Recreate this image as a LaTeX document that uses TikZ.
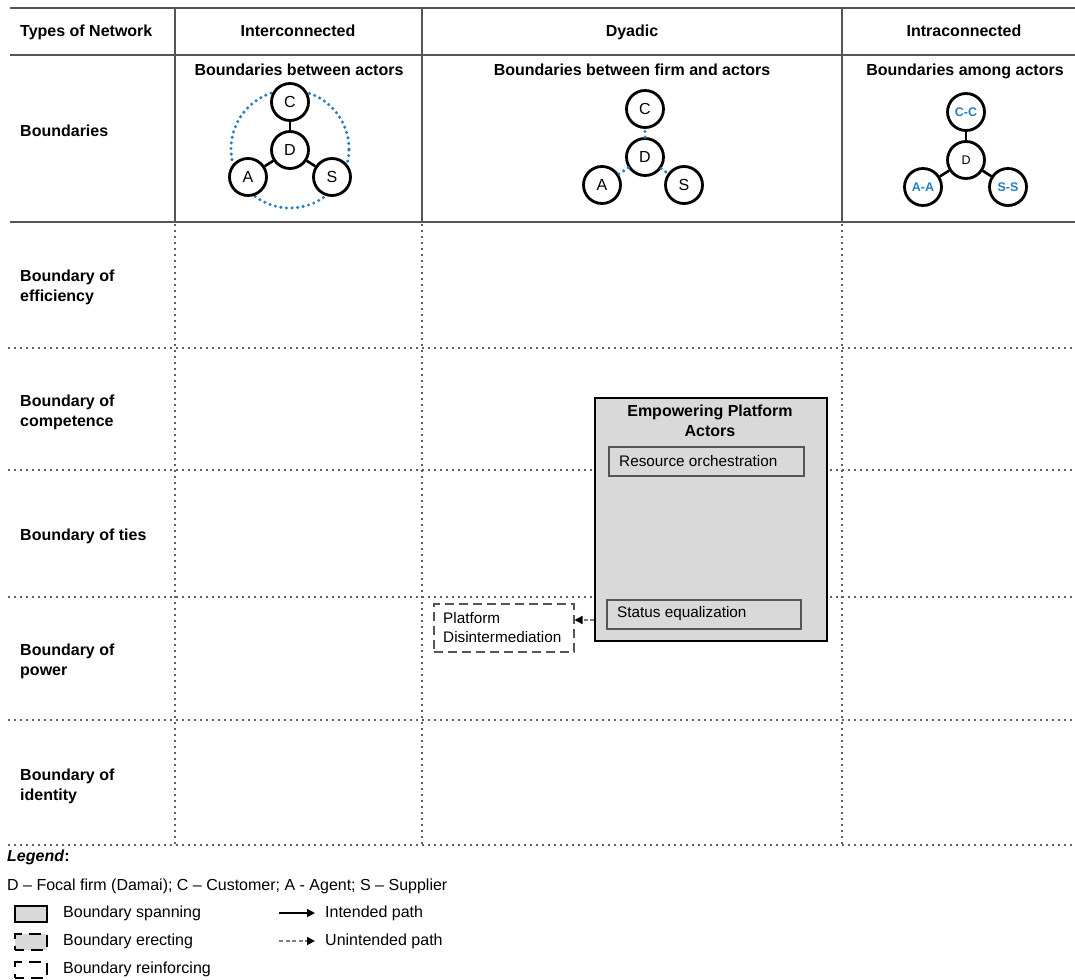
\documentclass[tikz,border=0pt]{standalone}
\usepackage{fontspec}
\setmainfont{Liberation Sans}
\usetikzlibrary{arrows.meta}
\definecolor{rulegray}{RGB}{85,85,85}
\definecolor{dotgray}{RGB}{95,95,95}
\definecolor{boxfill}{RGB}{217,217,217}
\definecolor{netblue}{RGB}{38,126,194}

\begin{document}
\begin{tikzpicture}[x=1pt,y=-1pt,
  font=\fontsize{16}{20}\selectfont,
  solidrule/.style={draw=rulegray, line width=2.2pt},
  dotrule/.style={draw=dotgray, line width=1.6pt, dash pattern=on 1.6pt off 4.4pt},
  rowlabel/.style={anchor=west, align=left, inner sep=0pt,
    font=\fontsize{16}{20}\selectfont\bfseries},
  headtext/.style={anchor=mid, inner sep=0pt, font=\fontsize{16}{19}\selectfont\bfseries},
  actor/.style={circle, draw=black, line width=2.8pt, fill=white,
    minimum size=37pt, inner sep=0pt, font=\fontsize{16}{18}\selectfont},
  smallactor/.style={actor, font=\fontsize{12.5}{14}\selectfont},
  blueactor/.style={actor, text=netblue, font=\fontsize{12.5}{14}\selectfont\bfseries},
  tie/.style={draw=black, line width=2.6pt},
  bluedots/.style={draw=netblue, line width=3.4pt, dash pattern=on 0pt off 5.6pt, line cap=round},
  spanbox/.style={draw=black, line width=2.4pt, fill=boxfill},
  innerbox/.style={draw=rulegray, line width=1.6pt, fill=boxfill, anchor=north west,
    inner sep=0pt},
  reinforcebox/.style={draw=rulegray, line width=1.5pt, dash pattern=on 9pt off 5pt,
    inner sep=0pt, anchor=north west},
  legendbox/.style={draw=black, line width=2.4pt, dash pattern=on 12pt off 7pt,
    dash phase=3pt, inner sep=0pt, anchor=north west},
  intended/.style={draw=black, line width=1.8pt, -{Triangle[length=8pt,width=8pt]}},
  unintended/.style={draw=gray, line width=1.3pt, dash pattern=on 4pt off 2.5pt,
    -{Triangle[length=8pt,width=8pt,black]}},
  plain/.style={anchor=west, inner sep=0pt},
  boxtext/.style={plain, font=\fontsize{15.3}{19}\selectfont}
]
\useasboundingbox (0,0) rectangle (1075,979);

% ---------- table frame ----------
\draw[solidrule] (10,8) -- (1075,8);
\draw[solidrule] (10,55) -- (1075,55);
\draw[solidrule] (10,222) -- (1075,222);
\foreach \cx in {175,422,842} {
  \draw[solidrule] (\cx,8) -- (\cx,222);
  \draw[dotrule] (\cx,224) -- (\cx,845);
}
\foreach \ry in {348,470,597,720,845} {
  \draw[dotrule] (8,\ry) -- (1075,\ry);
}

% ---------- header row ----------
\node[headtext, anchor=mid west] (hType) at (20,34) {Types of Network};
\node[headtext] (hInter) at (298,34) {Interconnected};
\node[headtext] (hDyad) at (632,34) {Dyadic};
\node[headtext] (hIntra) at (964,34) {Intraconnected};

% ---------- row labels ----------
\node[rowlabel] (rBound) at (20,131) {Boundaries};
\node[rowlabel] (rEff) at (20,287) {Boundary of\\efficiency};
\node[rowlabel] (rComp) at (20,412) {Boundary of\\competence};
\node[rowlabel] (rTies) at (20,536) {Boundary of ties};
\node[rowlabel] (rPow) at (20,661) {Boundary of\\power};
\node[rowlabel] (rIdent) at (20,786) {Boundary of\\identity};

% ---------- interconnected network ----------
\node[headtext] (tInter) at (299,73) {Boundaries between actors};
\coordinate (ring) at (290,149);
\draw[bluedots] (ring) circle[radius=59pt];
\node[actor] (iD) at (290,150) {D};
\node[actor] (iC) at (290,102) {C};
\node[actor] (iA) at (248,177) {A};
\node[actor] (iS) at (332,177) {S};
\draw[tie] (iD) -- (iC);
\draw[tie] (iD) -- (iA);
\draw[tie] (iD) -- (iS);

% ---------- dyadic network ----------
\node[headtext] (tDyad) at (632,73) {Boundaries between firm and actors};
\node[actor] (dD) at (645,157) {D};
\node[actor] (dC) at (645,109) {C};
\node[actor] (dA) at (602,185) {A};
\node[actor] (dS) at (684,185) {S};
\draw[bluedots] (dD) -- (dC);
\draw[bluedots] (dD) -- (dA);
\draw[bluedots] (dD) -- (dS);

% ---------- intraconnected network ----------
\node[headtext] (tIntra) at (965,73) {Boundaries among actors};
\node[smallactor] (nD) at (966,160) {D};
\node[blueactor] (nC) at (966,112) {C-C};
\node[blueactor] (nA) at (923,187) {A-A};
\node[blueactor] (nS) at (1008,187) {S-S};
\draw[tie] (nD) -- (nC);
\draw[tie] (nD) -- (nA);
\draw[tie] (nD) -- (nS);

% ---------- boundary spanning block ----------
\node[spanbox, anchor=north west, minimum width=232pt, minimum height=243pt, inner sep=0pt]
  (emp) at (594,397) {};
\node[anchor=north, align=center, inner sep=0pt,
  font=\fontsize{16}{20}\selectfont\bfseries] (empT) at (710,405) {Empowering Platform\\Actors};
\node[innerbox, minimum width=195pt, minimum height=29pt] (res) at (608,446) {};
\node[boxtext] (resT) at (619,461) {Resource orchestration};
\node[innerbox, minimum width=194pt, minimum height=29pt] (stat) at (606,599) {};
\node[boxtext] (statT) at (617,614) {Status equalization};

% ---------- boundary reinforcing block ----------
\node[reinforcebox, minimum width=140pt, minimum height=48pt] (pd) at (433,603) {};
\node[boxtext, align=left, font=\fontsize{15.3}{19}\selectfont] (pdT) at (443,628)
  {Platform\\Disintermediation};
\draw[unintended] (emp.west |- 0,620) -- (pd.east |- 0,620);

% ---------- legend ----------
\node[plain, font=\fontsize{16}{18}\selectfont\bfseries] (lgT) at (7,857) {\textit{Legend}:};
\node[plain] (lgKey) at (7,886)
  {D -- Focal firm (Damai); C -- Customer; A - Agent; S -- Supplier};
\node[spanbox, anchor=north west, minimum width=32pt, minimum height=16pt, inner sep=0pt]
  (lgSpan) at (14,905) {};
\node[plain] (lgSpanT) at (63,913) {Boundary spanning};
\node[legendbox, fill=boxfill, minimum width=32pt, minimum height=16pt] (lgErect) at (14,933) {};
\node[plain] (lgErectT) at (63,941) {Boundary erecting};
\node[legendbox, minimum width=32pt, minimum height=16pt] (lgReinf) at (14,961) {};
\node[plain] (lgReinfT) at (63,969) {Boundary reinforcing};
\coordinate (aS1) at (279,913);
\coordinate (aE1) at (315,913);
\draw[intended] (aS1) -- (aE1);
\node[plain] (lgInt) at (325,913) {Intended path};
\coordinate (aS2) at (279,941);
\coordinate (aE2) at (315,941);
\draw[unintended] (aS2) -- (aE2);
\node[plain] (lgUnint) at (325,941) {Unintended path};
\end{tikzpicture}
\end{document}
